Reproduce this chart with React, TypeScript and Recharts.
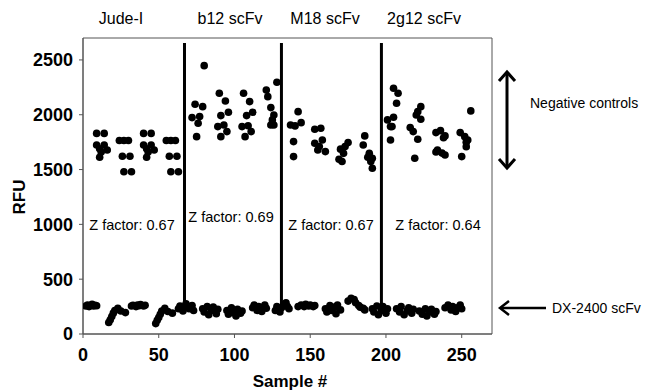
import React from 'react';
import { ScatterChart, Scatter, XAxis, YAxis, ReferenceLine, ReferenceArea } from 'recharts';

// Negative controls (x = sample #, y = RFU)
const judeNeg: number[][] = [
  [9, 1830], [14, 1830], [9, 1724], [14, 1724], [11, 1690], [16, 1679], [12, 1660], [11, 1612],
  [24, 1765], [27, 1765], [30, 1765], [26, 1622], [31, 1622], [27, 1480], [32, 1480],
  [40, 1830], [45, 1830], [40, 1724], [45, 1724], [42, 1690], [47, 1679], [43, 1660], [42, 1612],
  [55, 1765], [58, 1765], [61, 1765], [57, 1622], [62, 1622], [58, 1480], [63, 1480],
];
const b12Neg: number[][] = [
  [80, 2448], [74, 2096], [79, 2074], [72, 1974], [77, 1983], [76, 1922], [75, 1800],
  [90, 2196], [94, 2126], [96, 2023], [91, 1992], [89, 1892], [93, 1907], [95, 1846], [91, 1800],
  [106, 2196], [110, 2120], [112, 2023], [108, 1992], [105, 1892], [109, 1900], [111, 1846], [107, 1800],
  [128, 2297], [121, 2226], [122, 2165], [124, 2065], [126, 1998], [125, 1953], [124, 1907], [126, 1907],
];
const m18Neg: number[][] = [
  [142, 2028], [137, 1907], [140, 1898], [144, 1928], [139, 1755], [139, 1618],
  [153, 1868], [157, 1877], [153, 1740], [158, 1770], [156, 1710], [155, 1679], [160, 1664],
  [175, 1746], [173, 1710], [170, 1686], [172, 1648], [169, 1594], [171, 1573],
  [186, 1807], [185, 1724], [189, 1648], [188, 1612], [191, 1603], [190, 1573], [191, 1512],
];
const g12Neg: number[][] = [
  [205, 2242], [208, 2196], [207, 2105], [205, 1977], [201, 1953], [203, 1892], [204, 1892], [203, 1770],
  [223, 2074], [221, 2028], [220, 1998], [223, 1959], [216, 1883], [218, 1846], [221, 1776], [219, 1603],
  [236, 1855], [233, 1837], [239, 1807], [238, 1790], [234, 1679], [233, 1660], [237, 1650], [239, 1633],
  [256, 2035], [249, 1837], [252, 1800], [254, 1770], [253, 1750], [253, 1709], [250, 1618],
];

// DX-2400 scFv
const judeDx: number[][] = [
  [2, 255], [3, 265], [4, 250], [5, 260], [6, 270], [7, 255], [8, 262], [9, 258],
  [17, 105], [18, 130], [19, 160], [20, 190], [21, 215], [23, 235], [25, 210], [28, 195],
  [32, 255], [33, 262], [35, 250], [36, 265], [37, 258], [38, 268], [40, 255], [41, 262],
  [48, 95], [49, 125], [50, 150], [51, 180], [52, 210], [54, 235], [56, 205], [59, 190],
];
const b12Dx: number[][] = [
  [63, 230], [64, 255], [66, 210], [67, 245], [68, 275], [70, 230], [72, 260], [73, 215],
  [79, 230], [80, 200], [82, 250], [83, 175], [85, 215], [86, 245], [88, 185], [89, 225],
  [95, 215], [96, 180], [98, 240], [99, 195], [101, 165], [102, 225], [104, 190], [105, 210],
  [112, 240], [113, 265], [115, 215], [116, 250], [118, 205], [119, 240], [120, 265], [121, 235],
];
const m18Dx: number[][] = [
  [127, 215], [128, 250], [130, 200], [131, 240], [133, 270], [134, 285], [135, 250], [136, 230],
  [142, 250], [144, 265], [146, 250], [147, 270], [149, 255], [150, 265], [152, 250], [153, 260],
  [160, 230], [161, 200], [163, 260], [164, 215], [166, 245], [167, 185], [168, 265], [170, 220],
  [175, 300], [177, 325], [179, 315], [180, 285], [182, 260], [183, 245], [185, 235], [186, 220],
];
const g12Dx: number[][] = [
  [191, 230], [192, 200], [194, 255], [195, 175], [197, 215], [198, 250], [200, 190], [201, 230],
  [207, 230], [209, 200], [210, 250], [212, 175], [214, 215], [215, 240], [217, 190], [218, 225],
  [222, 210], [224, 180], [226, 230], [227, 165], [229, 200], [230, 225], [232, 180], [233, 205],
  [239, 240], [241, 265], [243, 220], [244, 250], [246, 205], [247, 240], [249, 265], [250, 230],
];

const groupLabels = ['Jude-I', 'b12 scFv', 'M18 scFv', '2g12 scFv'];
const zFactors = ['0.67', '0.69', '0.67', '0.64'];
const dividers = [67, 131, 197];
const xTicks = [0, 50, 100, 150, 200, 250];
const yTicks = [0, 500, 1000, 1500, 2000, 2500];

const toPts = (arr: number[][]) => arr.map(([x, y]) => ({ x, y }));
const negData = toPts([...judeNeg, ...b12Neg, ...m18Neg, ...g12Neg]);
const dxData = toPts([...judeDx, ...b12Dx, ...m18Dx, ...g12Dx]);

const Dot = (props: any) => <circle cx={props.cx} cy={props.cy} r={3.8} fill="#000" />;

const FONT = 'Arial, "Liberation Sans", sans-serif';

export default function App() {
  const groupX = [121, 230, 325, 424];
  const zX = [132, 231, 331, 438];
  const zY = [230, 222, 230, 230];
  return (
    <div style={{ position: 'absolute', left: 0, top: 0, width: 650, height: 390, background: '#fff', fontFamily: FONT }}>
      <ScatterChart width={650} height={390} margin={{ top: 38, right: 158, bottom: 0, left: 22 }}>
        <XAxis
          type="number"
          dataKey="x"
          domain={[0, 270]}
          ticks={xTicks}
          height={56}
          tickSize={4}
          tickMargin={10}
          axisLine={{ stroke: '#555' }}
          tickLine={{ stroke: '#555' }}
          tick={{ fill: '#000', fontSize: 18, fontWeight: 'bold', fontFamily: FONT }}
          allowDataOverflow
        />
        <YAxis
          type="number"
          dataKey="y"
          domain={[0, 2700]}
          ticks={yTicks}
          width={61}
          tickSize={4}
          tickMargin={6}
          axisLine={{ stroke: '#555' }}
          tickLine={{ stroke: '#555' }}
          tick={{ fill: '#000', fontSize: 18, fontWeight: 'bold', fontFamily: FONT }}
          allowDataOverflow
        />
        <ReferenceArea x1={0} x2={270} y1={0} y2={2700} fill="none" fillOpacity={0} stroke="#555" strokeWidth={1} />
        {dividers.map((d) => (
          <ReferenceLine key={d} segment={[{ x: d, y: 200 }, { x: d, y: 2655 }]} stroke="#000" strokeWidth={3} />
        ))}
        <Scatter data={negData} shape={Dot} isAnimationActive={false} />
        <Scatter data={dxData} shape={Dot} isAnimationActive={false} />
      </ScatterChart>
      <svg width={650} height={390} style={{ position: 'absolute', left: 0, top: 0, pointerEvents: 'none' }} fontFamily={FONT}>
        {groupLabels.map((g, i) => (
          <text key={g} x={groupX[i]} y={24} textAnchor="middle" fontSize={16} fill="#000">{g}</text>
        ))}
        {zFactors.map((z, i) => (
          <text key={i} x={zX[i]} y={zY[i]} textAnchor="middle" fontSize={14.5} fill="#000">{`Z factor: ${z}`}</text>
        ))}
        <text x={530} y={108} fontSize={14} fill="#000">Negative controls</text>
        <line x1={507} y1={73} x2={507} y2={167} stroke="#000" strokeWidth={3} />
        <polyline points="499,81 507,72 515,81" fill="none" stroke="#000" strokeWidth={3} />
        <polyline points="499,159 507,168 515,159" fill="none" stroke="#000" strokeWidth={3} />
        <line x1={501} y1={308} x2={546} y2={308} stroke="#000" strokeWidth={2.5} />
        <polyline points="509,301 500,308 509,315" fill="none" stroke="#000" strokeWidth={2.5} />
        <text x={552} y={313} fontSize={14} fill="#000">DX-2400 scFv</text>
        <text x={290} y={387} textAnchor="middle" fontSize={17} fontWeight="bold" fill="#000">Sample #</text>
        <text x={25} y={197} textAnchor="middle" fontSize={17} fontWeight="bold" fill="#000" transform="rotate(-90 25 197)">RFU</text>
      </svg>
    </div>
  );
}
